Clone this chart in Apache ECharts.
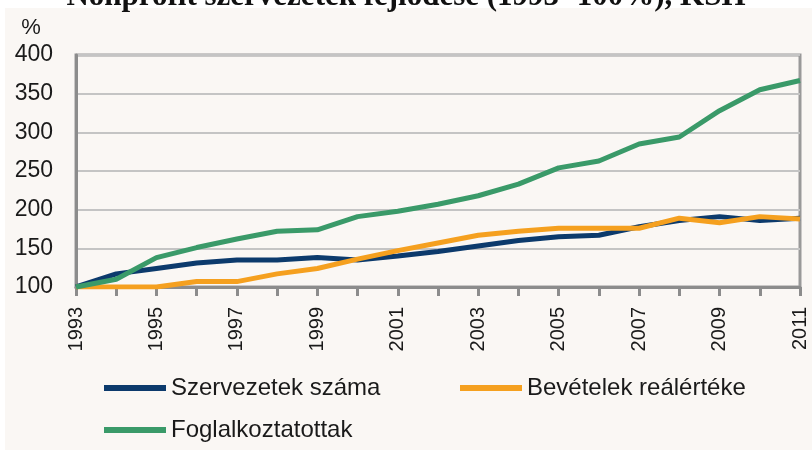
<!DOCTYPE html>
<html>
<head>
<meta charset="utf-8">
<script src="https://cdn.jsdelivr.net/npm/echarts@6/dist/echarts.min.js"></script>
<style>
  html, body { margin: 0; padding: 0; background: #ffffff; }
  #Chart { width: 812px; height: 450px; }
</style>
</head>
<body>
<div id="Chart"></div>
<script>
// adatok (1993=100%)
var years = ['1993','1994','1995','1996','1997','1998','1999','2000','2001','2002',
             '2003','2004','2005','2006','2007','2008','2009','2010','2011'];
var szervezetek = [100, 117, 124, 131, 135, 135, 138, 135, 140, 146, 153, 160, 165, 167, 178, 186, 191, 186, 189];
var bevetelek = [100, 100, 100, 107, 107, 117, 124, 136, 147, 157, 167, 172, 176, 176, 176, 189, 183, 191, 188];
var foglalkoztatottak = [100, 110, 138, 151, 162, 172, 174, 191, 198, 207, 218, 233, 254, 263, 285, 294, 328, 355, 367];
var seriesNames = ['Szervezetek száma', 'Bevételek reálértéke', 'Foglalkoztatottak'];

var blue = "#0c3a6c";
var orange = "#f5a01f";
var green = "#3a9a69";
var bg = "#faf7f4";
var font = "Liberation Sans";

var myChart = echarts.init(document.getElementById("Chart"));
var option = {
    backgroundColor: '#ffffff',
    animation: false,
    title: {
        text: 'Nonprofit szervezetek fejlődése (1993=100%), KSH',
        left: 'center',
        top: -19,
        padding: 0,
        textStyle: {
            fontFamily: 'Liberation Serif',
            fontWeight: 'bold',
            fontSize: 31,
            color: '#111'
        }
    },
    graphic: [
        {
            type: 'rect',
            z: -10,
            shape: { x: 5, y: 8, width: 807, height: 442 },
            style: { fill: bg }
        }
    ],
    legend: [
        {
            data: [seriesNames[0]],
            left: 104, top: 376, padding: 0,
            icon: 'rect', itemWidth: 62, itemHeight: 6,
            textStyle: { fontFamily: font, fontSize: 24, color: '#1a1a1a' }
        },
        {
            data: [seriesNames[1]],
            left: 460, top: 376, padding: 0,
            icon: 'rect', itemWidth: 62, itemHeight: 6,
            textStyle: { fontFamily: font, fontSize: 24, color: '#1a1a1a' }
        },
        {
            data: [seriesNames[2]],
            left: 104, top: 418, padding: 0,
            icon: 'rect', itemWidth: 62, itemHeight: 6,
            textStyle: { fontFamily: font, fontSize: 24, color: '#1a1a1a' }
        }
    ],
    grid: {
        left: 76,
        right: 12,
        top: 55,
        bottom: 163,
        show: true,
        borderColor: '#999999',
        borderWidth: 3,
        backgroundColor: 'transparent'
    },
    xAxis: {
        type: 'category',
        data: years,
        boundaryGap: false,
        axisLine: { lineStyle: { color: '#8c8c8c', width: 3 } },
        axisTick: {
            interval: 0,
            length: 9,
            lineStyle: { color: '#8c8c8c', width: 3 }
        },
        axisLabel: {
            interval: 1,
            rotate: 90,
            margin: 20,
            fontFamily: font,
            fontSize: 20,
            color: '#1a1a1a'
        },
        splitLine: { show: false }
    },
    yAxis: {
        type: 'value',
        min: 100,
        max: 400,
        interval: 50,
        name: '%',
        nameLocation: 'end',
        nameGap: 16,
        nameTextStyle: {
            fontFamily: font,
            fontSize: 22,
            color: '#1a1a1a',
            padding: [0, 90, 0, 0]
        },
        axisLine: { show: true, lineStyle: { color: '#8c8c8c', width: 3 } },
        axisTick: { show: false },
        axisLabel: {
            margin: 23,
            fontFamily: font,
            fontSize: 23,
            color: '#1a1a1a'
        },
        splitLine: {
            show: true,
            lineStyle: { color: '#c4c4c4', width: 2 }
        }
    },
    series: [
        {
            name: seriesNames[0],
            type: 'line',
            data: szervezetek,
            showSymbol: false,
            symbol: 'none',
            color: blue,
            lineStyle: { color: blue, width: 5 }
        },
        {
            name: seriesNames[1],
            type: 'line',
            data: bevetelek,
            showSymbol: false,
            symbol: 'none',
            color: orange,
            lineStyle: { color: orange, width: 5 }
        },
        {
            name: seriesNames[2],
            type: 'line',
            data: foglalkoztatottak,
            showSymbol: false,
            symbol: 'none',
            color: green,
            lineStyle: { color: green, width: 5 }
        }
    ]
};
myChart.setOption(option);
window.addEventListener("resize", function () {
    myChart.resize();
});
</script>
</body>
</html>
